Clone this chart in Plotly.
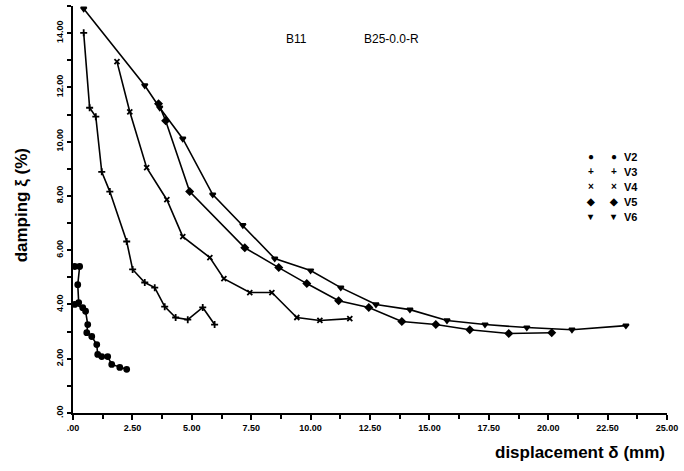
import plotly.graph_objects as go

# ---- data (displacement mm, damping %) ----
v2_x = [0.07, 0.28, 0.20, 0.24, 0.07, 0.41, 0.53, 0.62, 0.58, 0.79, 1.00, 1.04, 1.21, 1.46, 1.63, 1.97, 2.26]
v2_y = [5.40, 5.40, 4.73, 4.07, 4.00, 3.88, 3.75, 3.26, 2.96, 2.82, 2.52, 2.16, 2.08, 2.08, 1.79, 1.68, 1.61]

v3_x = [0.45, 0.70, 0.96, 1.21, 1.55, 2.26, 2.51, 3.02, 3.44, 3.86, 4.32, 4.83, 5.46, 5.96]
v3_y = [14.01, 11.25, 10.92, 8.89, 8.16, 6.32, 5.29, 4.81, 4.62, 3.92, 3.52, 3.44, 3.89, 3.26]

v4_x = [1.85, 2.39, 3.10, 3.95, 4.62, 5.76, 6.35, 7.44, 8.37, 9.42, 10.39, 11.65]
v4_y = [12.95, 11.10, 9.04, 7.86, 6.50, 5.73, 4.95, 4.44, 4.44, 3.52, 3.41, 3.48]

v5_x = [3.60, 3.90, 4.91, 7.23, 8.66, 9.84, 11.18, 12.45, 13.84, 15.27, 16.70, 18.34, 20.15]
v5_y = [11.40, 10.77, 8.16, 6.09, 5.36, 4.77, 4.14, 3.89, 3.37, 3.26, 3.07, 2.93, 2.96]

v6_x = [0.45, 3.02, 3.65, 4.62, 5.88, 7.15, 8.49, 10.00, 11.27, 12.75, 14.18, 15.74, 17.34, 19.10, 21.00, 23.27]
v6_y = [14.90, 12.07, 11.25, 10.11, 8.05, 6.92, 5.69, 5.25, 4.62, 4.00, 3.81, 3.41, 3.26, 3.15, 3.07, 3.22]

series_names = ["V2", "V3", "V4", "V5", "V6"]
legend_glyphs = ["●", "+", "×", "◆", "▾"]

x_tickvals = [0, 2.5, 5, 7.5, 10, 12.5, 15, 17.5, 20, 22.5, 25]
x_ticktext = [".00", "2.50", "5.00", "7.50", "10.00", "12.50", "15.00", "17.50", "20.00", "22.50", "25.00"]
y_tickvals = [0, 2, 4, 6, 8, 10, 12, 14]
y_ticktext = [".00", "2.00", "4.00", "6.00", "8.00", "10.00", "12.00", "14.00"]

xs = [v2_x, v3_x, v4_x, v5_x, v6_x]
ys = [v2_y, v3_y, v4_y, v5_y, v6_y]
symbols = ["circle", "cross-thin", "x-thin", "diamond", "triangle-down"]
sizes = [5, 5, 5, 5, 5]

fig = go.Figure()
for x, y, s, n, sz in zip(xs, ys, symbols, series_names, sizes):
    fig.add_trace(go.Scatter(
        x=x, y=y, mode="lines+markers", name=n,
        line=dict(color="black", width=1.6),
        marker=dict(symbol=s, size=sz, color="black",
                    line=dict(color="black", width=1.8)),
        showlegend=False,
    ))

font_fam = "Liberation Sans, Arial, sans-serif"

fig.update_layout(
    width=684, height=471,
    margin=dict(l=73, r=17, t=6, b=58),
    paper_bgcolor="white", plot_bgcolor="white",
    font=dict(family=font_fam, color="black"),
    xaxis=dict(
        range=[0, 25], showgrid=False, zeroline=False,
        showline=True, linecolor="black", linewidth=2,
        ticks="outside", ticklen=5, tickwidth=2, tickcolor="black",
        tickvals=x_tickvals, ticktext=x_ticktext,
        tickfont=dict(size=9, family=font_fam, weight="bold"),
        minor=dict(dtick=1.25, ticks="outside", ticklen=4, tickwidth=2, tickcolor="black"),
    ),
    yaxis=dict(
        range=[0, 15], showgrid=False, zeroline=False,
        showline=True, linecolor="black", linewidth=2,
        ticks="outside", ticklen=4, tickwidth=2, tickcolor="black",
        tickvals=y_tickvals, ticktext=y_ticktext, tickangle=-90,
        tickfont=dict(size=9, family=font_fam, weight="bold"),
        minor=dict(dtick=1, ticks="outside", ticklen=4, tickwidth=2, tickcolor="black"),
    ),
)

# axis titles
fig.add_annotation(text="displacement δ (mm)", xref="paper", yref="paper",
                   x=1.0, y=-0.096, xanchor="right", yanchor="middle", showarrow=False,
                   font=dict(size=17, family=font_fam, weight="bold"))
fig.add_annotation(text="damping ξ (%)", xref="paper", yref="paper",
                   x=-0.086, y=0.51, xanchor="center", yanchor="middle", showarrow=False,
                   textangle=-90, font=dict(size=17, family=font_fam, weight="bold"))

# header labels
fig.add_annotation(text="B11", xref="paper", yref="paper", x=0.355, y=0.918,
                   xanchor="left", yanchor="middle", showarrow=False,
                   font=dict(size=12, family=font_fam))
fig.add_annotation(text="B25-0.0-R", xref="paper", yref="paper", x=0.487, y=0.918,
                   xanchor="left", yanchor="middle", showarrow=False,
                   font=dict(size=12, family=font_fam))

# legend as glyph rows
for i, (g, n) in enumerate(zip(legend_glyphs, series_names)):
    yy = 0.630 - i * 0.037
    fig.add_annotation(text=g, xref="paper", yref="paper", x=0.872, y=yy,
                       xanchor="center", yanchor="middle", showarrow=False,
                       font=dict(size=10, family=font_fam, weight="bold"))
    fig.add_annotation(text=g, xref="paper", yref="paper", x=0.910, y=yy,
                       xanchor="center", yanchor="middle", showarrow=False,
                       font=dict(size=10, family=font_fam, weight="bold"))
    fig.add_annotation(text=n, xref="paper", yref="paper", x=0.925, y=yy,
                       xanchor="left", yanchor="middle", showarrow=False,
                       font=dict(size=11, family=font_fam, weight="bold"))

fig.write_html("out.html")
